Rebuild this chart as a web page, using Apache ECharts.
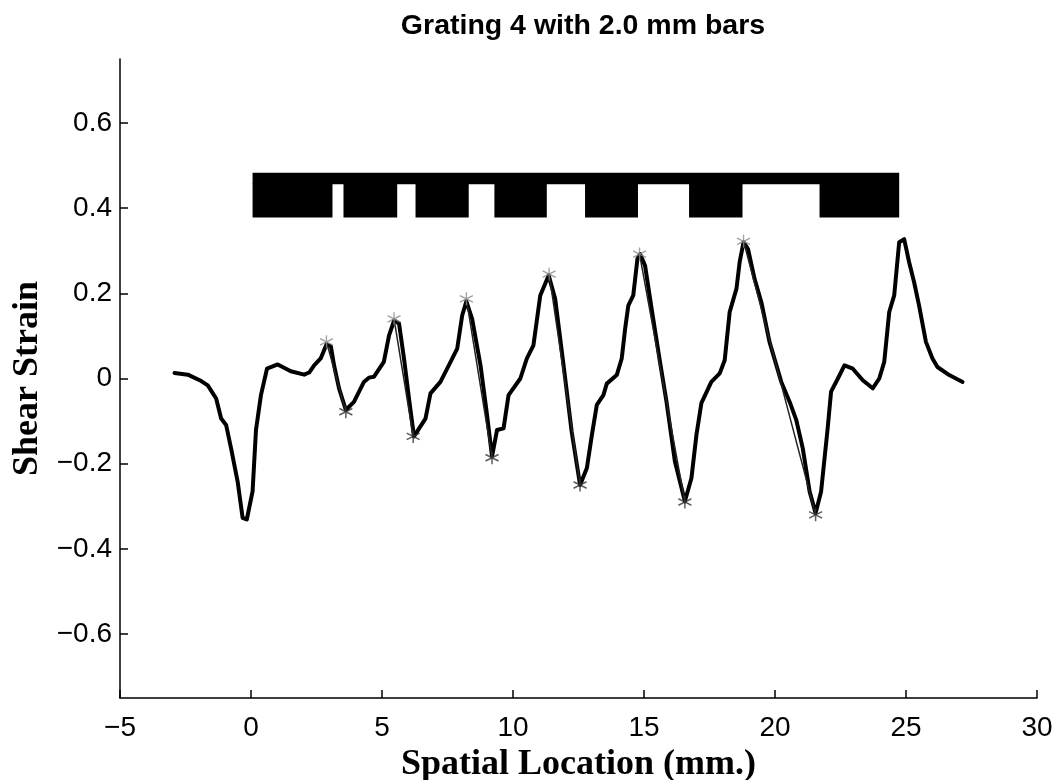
<!DOCTYPE html>
<html>
<head>
<meta charset="utf-8">
<title>Grating 4 with 2.0 mm bars</title>
<script src="https://cdn.jsdelivr.net/npm/echarts@6/dist/echarts.min.js"></script>
<style>
  html, body { margin: 0; padding: 0; background: #fff; }
  #main { width: 1057px; height: 780px; }
</style>
</head>
<body>
<div id="main"></div>
<script>
// shear strain profile
var strainX = [-2.92, -2.41, -1.90, -1.65, -1.33, -1.14, -0.95, -0.76, -0.51, -0.32, -0.16,
  0.06, 0.19, 0.38, 0.61, 1.02, 1.52, 2.03, 2.22, 2.41, 2.66, 2.88, 3.05, 3.17, 3.36, 3.62,
  3.93, 4.31, 4.50, 4.69, 5.07, 5.27, 5.46, 5.65, 5.84, 6.03, 6.22, 6.66, 6.85, 7.23, 7.55,
  7.87, 8.06, 8.22, 8.44, 8.76, 9.01, 9.20, 9.39, 9.64, 9.83, 10.28, 10.53, 10.78, 11.04,
  11.36, 11.61, 11.93, 12.24, 12.56, 12.82, 13.01, 13.20, 13.45, 13.58, 13.96, 14.15, 14.28,
  14.40, 14.59, 14.75, 14.85, 15.04, 15.29, 15.61, 15.86, 16.18, 16.56, 16.81, 17.00, 17.19,
  17.57, 17.89, 18.08, 18.27, 18.53, 18.65, 18.80, 18.97, 19.22, 19.48, 19.79, 20.24, 20.56,
  20.81, 21.06, 21.32, 21.55, 21.76, 22.01, 22.14, 22.40, 22.65, 22.97, 23.35, 23.73, 23.98,
  24.17, 24.36, 24.55, 24.74, 24.93, 25.12, 25.31, 25.50, 25.76, 26.01, 26.20, 26.65, 27.16];
var strainY = [0.013, 0.009, -0.006, -0.016, -0.047, -0.094, -0.109, -0.164, -0.242, -0.327, -0.331,
  -0.265, -0.121, -0.039, 0.023, 0.033, 0.017, 0.009, 0.014, 0.031, 0.047, 0.080, 0.075, 0.031, -0.023, -0.074,
  -0.055, -0.008, 0.002, 0.004, 0.039, 0.101, 0.136, 0.129, 0.047, -0.047, -0.136, -0.094, -0.035, -0.008, 0.031,
  0.070, 0.148, 0.181, 0.140, 0.031, -0.086, -0.183, -0.121, -0.117, -0.039, 0.000, 0.047, 0.078, 0.195,
  0.242, 0.187, 0.031, -0.125, -0.250, -0.210, -0.133, -0.062, -0.039, -0.012, 0.008, 0.047, 0.117,
  0.171, 0.195, 0.281, 0.292, 0.265, 0.164, 0.039, -0.055, -0.195, -0.288, -0.234, -0.133, -0.058,
  -0.008, 0.012, 0.043, 0.156, 0.211, 0.273, 0.320, 0.304, 0.234, 0.179, 0.086, -0.008, -0.055,
  -0.097, -0.164, -0.265, -0.316, -0.265, -0.117, -0.031, 0.000, 0.031, 0.023, -0.004, -0.023, 0.000,
  0.039, 0.156, 0.195, 0.320, 0.327, 0.273, 0.226, 0.171, 0.086, 0.047, 0.027, 0.008, -0.008];

// marked extrema
var peakX = [2.88, 5.46, 8.22, 11.38, 14.83, 18.80];
var peakY = [0.086, 0.140, 0.187, 0.245, 0.292, 0.322];
var troughX = [3.62, 6.19, 9.20, 12.56, 16.56, 21.55];
var troughY = [-0.078, -0.136, -0.186, -0.250, -0.290, -0.320];

// grating bars (mm) and their heights in strain units
var barStart = [0.06, 3.53, 6.28, 9.29, 12.75, 16.72, 21.70];
var barEnd = [3.11, 5.58, 8.31, 11.29, 14.77, 18.76, 24.74];
var barBottom = 0.378;
var barTop = 0.458;
var stripTop = 0.483;

var xTicks = [-5, 0, 5, 10, 15, 20, 25, 30];
var yTicks = [-0.6, -0.4, -0.2, 0, 0.2, 0.4, 0.6];

var curve = strainX.map(function (x, i) { return [x, strainY[i]]; });
var peaks = peakX.map(function (x, i) { return [x, peakY[i]]; });
var troughs = troughX.map(function (x, i) { return [x, troughY[i]]; });
// thin fitted segments from each peak down to the next trough
var fitSeg = [];
peaks.forEach(function (p, i) { fitSeg.push(p, troughs[i], '-'); });

var rects = barStart.map(function (s, i) { return [s, barEnd[i], barBottom, barTop]; });
rects.push([barStart[0], barEnd[barEnd.length - 1], barTop - 0.002, stripTop]);

var star = 'path://M0,-10L0,10M-8.7,-5L8.7,5M-8.7,5L8.7,-5';

var myChart = echarts.init(document.getElementById('main'));
var option = {
  backgroundColor: '#fff',
  animation: false,
  title: {
    text: 'Grating 4 with 2.0 mm bars',
    left: 578,
    top: 7,
    textAlign: 'center',
    textStyle: { fontFamily: 'Liberation Sans', fontWeight: 'bold', fontSize: 28.5, color: '#000' }
  },
  grid: { left: 120, right: 20, top: 59, bottom: 82, containLabel: false, outerBoundsMode: 'none' },
  xAxis: {
    type: 'value',
    min: -5, max: 30, interval: 5,
    name: 'Spatial Location (mm.)',
    nameLocation: 'middle',
    nameGap: 45,
    nameTextStyle: { fontFamily: 'Liberation Serif', fontWeight: 'bold', fontSize: 36, color: '#000' },
    axisLine: { onZero: false, lineStyle: { color: '#000', width: 1.5 } },
    axisTick: { inside: true, length: 8, lineStyle: { color: '#000', width: 1.5 } },
    axisLabel: {
      margin: 16, color: '#000', fontFamily: 'Liberation Sans', fontSize: 28,
      customValues: xTicks,
      formatter: function (v) { return String(v).replace('-', '\u2212'); }
    },
    splitLine: { show: false }
  },
  yAxis: {
    type: 'value',
    min: -0.75, max: 0.75,
    name: 'Shear Strain',
    nameLocation: 'middle',
    nameGap: 57,
    nameTextStyle: { fontFamily: 'Liberation Serif', fontWeight: 'bold', fontSize: 36, color: '#000' },
    axisLine: { onZero: false, lineStyle: { color: '#000', width: 1.5 } },
    axisTick: { inside: true, length: 8, customValues: yTicks, lineStyle: { color: '#000', width: 1.5 } },
    axisLabel: {
      margin: 8, color: '#000', fontFamily: 'Liberation Sans', fontSize: 28,
      customValues: yTicks,
      formatter: function (v) { return (v === 0 ? '0' : v.toFixed(1)).replace('-', '\u2212'); }
    },
    splitLine: { show: false }
  },
  series: [
    {
      type: 'custom',
      silent: true,
      renderItem: function (params, api) {
        var p0 = api.coord([api.value(0), api.value(3)]);
        var p1 = api.coord([api.value(1), api.value(2)]);
        return {
          type: 'rect',
          shape: { x: p0[0], y: p0[1], width: p1[0] - p0[0], height: p1[1] - p0[1] },
          style: { fill: '#000' }
        };
      },
      encode: { x: [0, 1], y: [2, 3] },
      data: rects,
      z: 1
    },
    {
      type: 'line',
      data: curve,
      showSymbol: false,
      smooth: false,
      lineStyle: { color: '#000', width: 4, join: 'round', cap: 'round' },
      z: 3
    },
    {
      type: 'line',
      data: fitSeg,
      showSymbol: false,
      connectNulls: false,
      lineStyle: { color: '#222', width: 1.5 },
      z: 4
    },
    {
      type: 'scatter',
      data: peaks,
      symbol: star,
      symbolSize: 13,
      itemStyle: { color: 'none', borderColor: '#888', borderWidth: 1.3 },
      z: 5
    },
    {
      type: 'scatter',
      data: troughs,
      symbol: star,
      symbolSize: 13,
      itemStyle: { color: 'none', borderColor: '#333', borderWidth: 1.5 },
      z: 5
    }
  ]
};
myChart.setOption(option);
</script>
</body>
</html>
